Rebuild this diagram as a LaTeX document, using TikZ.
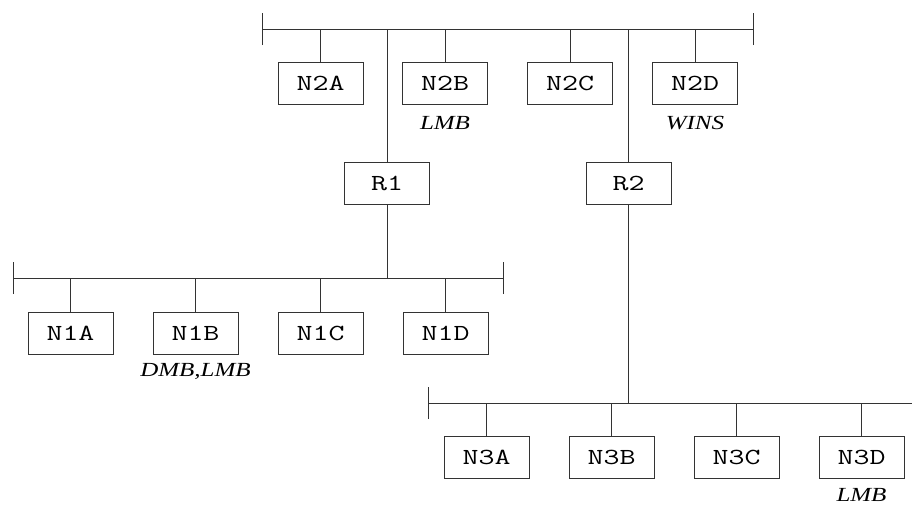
\documentclass[tikz,border=0pt]{standalone}
\usepackage{fontspec}
\setmainfont{Liberation Serif}
\newcommand{\boxtxt}[1]{\scalebox{1.35}[1]{\ttfamily\fontsize{23}{23}\selectfont #1}}
\newcommand{\tagtxt}[1]{\scalebox{1.25}[1]{\itshape\fontsize{20}{20}\selectfont #1}}
\begin{document}
\begin{tikzpicture}[x=1pt,y=-1pt,
  wire/.style={draw=black!80,line width=0.9pt},
  hostbox/.style={draw=black!80,line width=0.9pt,minimum width=85pt,minimum height=42pt,inner sep=0pt},
  tag/.style={inner sep=0pt,anchor=base}]
\useasboundingbox (0,0) rectangle (912,504);
% buses
\coordinate (b2l) at (262,29); \coordinate (b2r) at (753,29);
\coordinate (b1l) at (13,278); \coordinate (b1r) at (503,278);
\coordinate (b3l) at (428,403); \coordinate (b3r) at (912,403);
\draw[wire] (b2l) -- (b2r);
\draw[wire] ([yshift=-16pt]b2l) -- ([yshift=16pt]b2l);
\draw[wire] ([yshift=-16pt]b2r) -- ([yshift=16pt]b2r);
\draw[wire] (b1l) -- (b1r);
\draw[wire] ([yshift=-16pt]b1l) -- ([yshift=16pt]b1l);
\draw[wire] ([yshift=-16pt]b1r) -- ([yshift=16pt]b1r);
\draw[wire] (b3l) -- (b3r);
\draw[wire] ([yshift=-16pt]b3l) -- ([yshift=16pt]b3l);
% top hosts
\node[hostbox] (n2a) at (320.5,83) {\boxtxt{N2A}};
\node[hostbox] (n2b) at (445,83) {\boxtxt{N2B}};
\node[hostbox] (n2c) at (570,83) {\boxtxt{N2C}};
\node[hostbox] (n2d) at (695,83) {\boxtxt{N2D}};
\foreach \n in {n2a,n2b,n2c,n2d} \draw[wire] (\n.north) -- (\n.north |- b2l);
\node[tag] (t2b) at (445,129) {\tagtxt{LMB}};
\node[tag] (t2d) at (695,129) {\tagtxt{WINS}};
% routers
\node[hostbox] (r1) at (387,183.5) {\boxtxt{R1}};
\node[hostbox] (r2) at (628.5,183.5) {\boxtxt{R2}};
\draw[wire] (r1.north) -- (r1.north |- b2l);
\draw[wire] (r1.south) -- (r1.south |- b1l);
\draw[wire] (r2.north) -- (r2.north |- b2l);
\draw[wire] (r2.south) -- (r2.south |- b3l);
% net 1
\node[hostbox] (n1a) at (70.5,333) {\boxtxt{N1A}};
\node[hostbox] (n1b) at (195.5,333) {\boxtxt{N1B}};
\node[hostbox] (n1c) at (320.5,333) {\boxtxt{N1C}};
\node[hostbox] (n1d) at (445.5,333) {\boxtxt{N1D}};
\foreach \n in {n1a,n1b,n1c,n1d} \draw[wire] (\n.north) -- (\n.north |- b1l);
\node[tag] (t1b) at (195.5,376.5) {\tagtxt{DMB,LMB}};
% net 3
\node[hostbox] (n3a) at (486.5,457) {\boxtxt{N3A}};
\node[hostbox] (n3b) at (611.5,457) {\boxtxt{N3B}};
\node[hostbox] (n3c) at (736.5,457) {\boxtxt{N3C}};
\node[hostbox] (n3d) at (861.5,457) {\boxtxt{N3D}};
\foreach \n in {n3a,n3b,n3c,n3d} \draw[wire] (\n.north) -- (\n.north |- b3l);
\node[tag] (t3d) at (861.5,501) {\tagtxt{LMB}};
\end{tikzpicture}
\end{document}
